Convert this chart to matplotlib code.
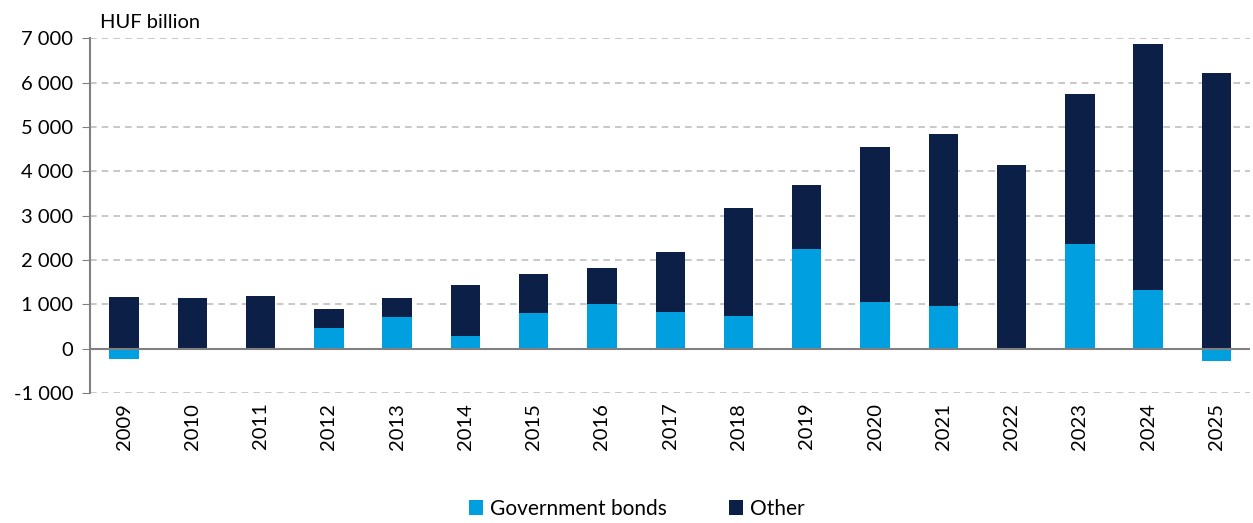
import matplotlib.pyplot as plt
import numpy as np

plt.rcParams['font.family'] = ['Lato', 'DejaVu Sans']

years = [str(y) for y in range(2009, 2026)]
gov_bonds = [-240, -30, -10, 470, 720, 290, 810, 1010, 830, 740,
             2250, 1060, 950, 0, 2360, 1330, -270]
other = [1170, 1150, 1190, 430, 430, 1150, 880, 810, 1350, 2430,
         1440, 3490, 3890, 4140, 3380, 5540, 6210]

gov_color = '#009FDF'
other_color = '#0C1F47'

fig = plt.figure(figsize=(12.53, 5.23), dpi=100)
ax = fig.add_axes([0.0718, 0.2486, 0.9262, 0.6784])

x = np.arange(len(years))
gov = np.array(gov_bonds)
oth = np.array(other)
# other sits on top of positive government bonds, on zero otherwise
base = np.where(gov > 0, gov, 0)

w = 0.43
ax.bar(x, gov, w, color=gov_color, label='Government bonds', zorder=3)
ax.bar(x, oth, w, bottom=base, color=other_color, label='Other', zorder=3)

ax.set_xlim(-0.5, len(years) - 0.5)
ax.set_ylim(-1000, 7000)
ax.set_yticks(range(-1000, 7001, 1000))
ax.set_yticklabels([f'{v:,}'.replace(',', ' ') for v in range(-1000, 7001, 1000)],
                   fontsize=14.5)
ax.set_xticks(x)
ax.set_xticklabels(years, rotation=90, fontsize=14.5)

for v in range(-1000, 7001, 1000):
    if v != 0:
        ax.axhline(v, color='#BFBFBF', lw=1.2, ls=(0, (4, 3)), zorder=1)
ax.axhline(0, color='#808080', lw=1.5, zorder=4)

for s in ['top', 'right', 'bottom']:
    ax.spines[s].set_visible(False)
ax.spines['left'].set_color('#808080')
ax.spines['left'].set_linewidth(1.5)
ax.tick_params(axis='y', length=6, color='#808080', pad=6)
ax.tick_params(axis='x', length=0, pad=7)

ax.text(0.009, 1.02, 'HUF billion', transform=ax.transAxes, fontsize=14.5,
        ha='left', va='bottom')

fig.legend(loc='center', bbox_to_anchor=(0.508, 0.027), ncol=2,
           frameon=False, fontsize=15, handlelength=0.7, handleheight=0.7,
           columnspacing=3.0, handletextpad=0.3)

fig.savefig('out.png', dpi=100)
